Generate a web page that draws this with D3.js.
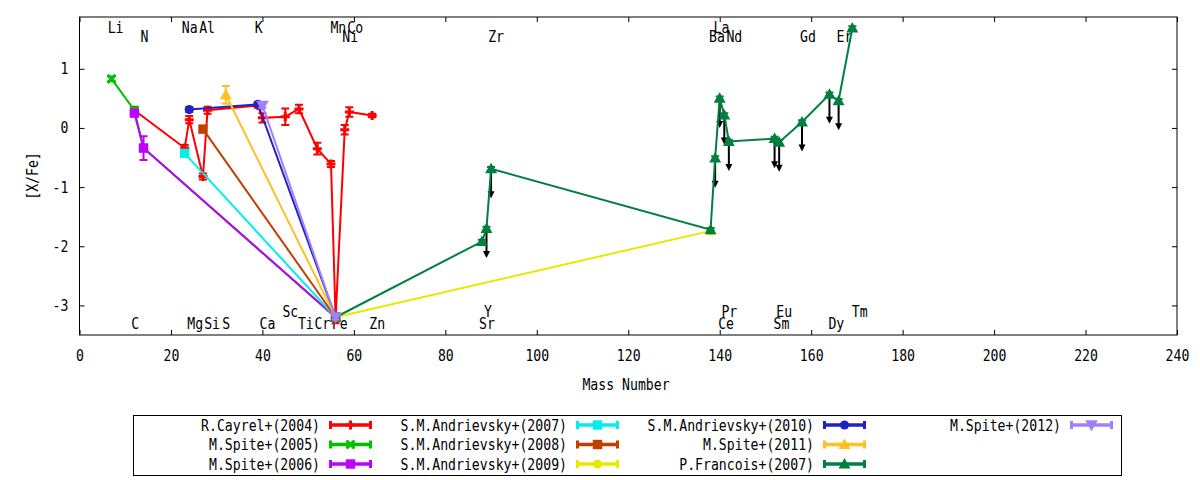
<!DOCTYPE html>
<html>
<head>
<meta charset="utf-8">
<script src="https://cdn.jsdelivr.net/npm/d3@7"></script>
<style>
  html, body { margin: 0; padding: 0; background: #fff; }
  svg { display: block; }
</style>
</head>
<body>
<svg id="chart" width="1200" height="480"></svg>
<script>
// ---------------- DATA ----------------
const xTicks = [0, 20, 40, 60, 80, 100, 120, 140, 160, 180, 200, 220, 240];
const yTicks = [-3, -2, -1, 0, 1];

// R.Cayrel+(2004)
const cayrelMass = [12, 23, 24, 27, 28, 39, 40, 45, 48, 52, 55, 56, 58, 59, 64];
const cayrelXFe  = [0.30, -0.34, 0.14, -0.82, 0.30, 0.38, 0.17, 0.19, 0.32, -0.35, -0.61, -3.22, -0.03, 0.27, 0.21];
const cayrelErr  = [0.04, 0.05, 0.06, 0.05, 0.06, 0.04, 0.08, 0.14, 0.07, 0.10, 0.05, 0.08, 0.08, 0.08, 0.03];
// M.Spite+(2005)
const spite05Mass = [7, 12, 14, 56];
const spite05XFe  = [0.83, 0.30, -0.34, -3.2];
const spite05Err  = [0.04, 0.04, 0.05, 0.05];
// M.Spite+(2006)
const spite06Mass = [12, 14, 56];
const spite06XFe  = [0.25, -0.34, -3.2];
const spite06Err  = [0.05, 0.20, 0.05];
// S.M.Andrievsky+(2007)
const andr07Mass = [23, 56];
const andr07XFe  = [-0.43, -3.2];
const andr07Err  = [0.04, 0.04];
// S.M.Andrievsky+(2008)
const andr08Mass = [27, 56];
const andr08XFe  = [-0.02, -3.2];
const andr08Err  = [0.04, 0.04];
// S.M.Andrievsky+(2009)
const andr09Mass = [56, 138];
const andr09XFe  = [-3.2, -1.74];
const andr09Err  = [0.04, 0.04];
// S.M.Andrievsky+(2010)
const andr10Mass = [24, 39, 56];
const andr10XFe  = [0.31, 0.40, -3.2];
const andr10Err  = [0.04, 0.04, 0.04];
// M.Spite+(2011)
const spite11Mass = [32, 56];
const spite11XFe  = [0.56, -3.2];
const spite11Err  = [0.15, 0.04];
// P.Francois+(2007)
const francoisMass  = [56, 88, 89, 90, 138, 139, 140, 141, 142, 152, 153, 158, 164, 166, 169];
const francoisXFe   = [-3.2, -1.92, -1.70, -0.69, -1.72, -0.51, 0.50, 0.22, -0.23, -0.18, -0.24, 0.10, 0.57, 0.46, 1.69];
const francoisErr   = [0.03, 0.03, 0.03, 0.03, 0.03, 0.03, 0.03, 0.03, 0.03, 0.03, 0.03, 0.03, 0.03, 0.03, 0.03];
const francoisUpper = [0, 0, 1, 1, 0, 1, 1, 1, 1, 1, 1, 1, 1, 1, 0];
// M.Spite+(2012)
const spite12Mass = [40, 56];
const spite12XFe  = [0.38, -3.2];
const spite12Err  = [0.04, 0.04];

const seriesNames = ["R.Cayrel+(2004)", "M.Spite+(2005)", "M.Spite+(2006)",
  "S.M.Andrievsky+(2007)", "S.M.Andrievsky+(2008)", "S.M.Andrievsky+(2009)",
  "S.M.Andrievsky+(2010)", "M.Spite+(2011)", "P.Francois+(2007)", "M.Spite+(2012)"];

// element labels (placed in data coordinates)
const labelNames = ["Li","Na","Al","K","Mn","Co","La",
                    "N","Ni","Zr","Ba","Nd","Gd","Er",
                    "Sc","Y","Pr","Eu","Tm",
                    "C","Mg","Si","S","Ca","Ti","Cr","Fe","Zn","Sr","Ce","Sm","Dy"];
const labelMass  = [7.9, 24.1, 27.9, 39.2, 56.6, 60.3, 140.4,
                    14.2, 59.2, 91.1, 139.4, 143.2, 159.3, 167.3,
                    46.1, 89.3, 142.1, 154.1, 170.6,
                    12.2, 25.3, 29.0, 32.1, 41.1, 49.5, 53.1, 56.9, 65.1, 89.1, 141.4, 153.5, 165.5];
const labelXFe   = [1.70, 1.70, 1.70, 1.70, 1.70, 1.70, 1.70,
                    1.55, 1.55, 1.55, 1.55, 1.55, 1.55, 1.55,
                    -3.10, -3.10, -3.10, -3.10, -3.10,
                    -3.31, -3.31, -3.31, -3.31, -3.31, -3.31, -3.31, -3.31, -3.31, -3.31, -3.31, -3.31, -3.31];

// ---------------- STYLE ----------------
const FONT = "'DejaVu Sans Mono', 'Liberation Mono', monospace";
const FS = 15.5, SX = 0.85;
const styles = [
  {color: "#ff0000", marker: "plus"},
  {color: "#00c000", marker: "cross"},
  {color: "#c000ff", marker: "square"},
  {color: "#00eeee", marker: "square"},
  {color: "#c04000", marker: "square"},
  {color: "#e8e800", marker: "circle"},
  {color: "#2222c0", marker: "circle"},
  {color: "#ffc020", marker: "tri"},
  {color: "#008040", marker: "tri"},
  {color: "#a080ff", marker: "trid"}
];
const seriesData = [
  [cayrelMass, cayrelXFe, cayrelErr],
  [spite05Mass, spite05XFe, spite05Err],
  [spite06Mass, spite06XFe, spite06Err],
  [andr07Mass, andr07XFe, andr07Err],
  [andr08Mass, andr08XFe, andr08Err],
  [andr09Mass, andr09XFe, andr09Err],
  [andr10Mass, andr10XFe, andr10Err],
  [spite11Mass, spite11XFe, spite11Err],
  [francoisMass, francoisXFe, francoisErr],
  [spite12Mass, spite12XFe, spite12Err]
];

const svg = d3.select("#chart");
const L = 79.5, R = 1177, T = 17, B = 335;
const x = d3.scaleLinear().domain([0, 240]).range([L, R]);
const y = d3.scaleLinear().domain([-3.5, 1.875]).range([B, T]);

function addText(parent, px, py, str, anchor, rot) {
  const g = parent.append("g")
    .attr("transform", `translate(${px},${py})` + (rot ? ` rotate(${rot})` : "") + ` scale(${SX},1)`);
  g.append("text")
    .attr("x", 0).attr("y", 0).attr("dy", "0.36em")
    .attr("text-anchor", anchor || "middle")
    .attr("font-family", FONT).attr("font-size", FS)
    .attr("fill", "#000")
    .text(str);
  return g;
}

function drawMarker(g, type, cx, cy, color, k) {
  k = k || 1;
  if (type === "plus") {
    const s = 4.5 * k;
    g.append("path").attr("d", `M${cx - s},${cy}H${cx + s}M${cx},${cy - s}V${cy + s}`)
      .attr("stroke", color).attr("stroke-width", 3).attr("fill", "none");
  } else if (type === "cross") {
    const s = 4 * k;
    g.append("path").attr("d", `M${cx - s},${cy - s}L${cx + s},${cy + s}M${cx - s},${cy + s}L${cx + s},${cy - s}`)
      .attr("stroke", color).attr("stroke-width", 3).attr("fill", "none");
  } else if (type === "square") {
    const s = 4.7 * k;
    g.append("rect").attr("x", cx - s).attr("y", cy - s).attr("width", 2 * s).attr("height", 2 * s)
      .attr("fill", color);
  } else if (type === "circle") {
    g.append("circle").attr("cx", cx).attr("cy", cy).attr("r", 4.6 * k).attr("fill", color);
  } else if (type === "tri") {
    const s = 6 * k;
    g.append("path").attr("d", `M${cx},${cy - s}L${cx + s},${cy + s * 0.75}L${cx - s},${cy + s * 0.75}Z`)
      .attr("fill", color);
  } else if (type === "trid") {
    const s = 6.3 * k;
    g.append("path").attr("d", `M${cx},${cy + s}L${cx + s},${cy - s * 0.75}L${cx - s},${cy - s * 0.75}Z`)
      .attr("fill", color);
  }
}

// ---------------- AXES ----------------
const fmt = d => String(d);
const axB = svg.append("g").attr("transform", `translate(0,${B})`)
  .call(d3.axisBottom(x).tickValues(xTicks).tickFormat(fmt).tickSizeInner(-5).tickSizeOuter(0).tickPadding(15));
const axL = svg.append("g").attr("transform", `translate(${L},0)`)
  .call(d3.axisLeft(y).tickValues(yTicks).tickFormat(fmt).tickSizeInner(-5).tickSizeOuter(0).tickPadding(13));
const axT = svg.append("g").attr("transform", `translate(0,${T})`)
  .call(d3.axisTop(x).tickValues(xTicks).tickSizeInner(-5).tickSizeOuter(0).tickFormat(""));
const axR = svg.append("g").attr("transform", `translate(${R},0)`)
  .call(d3.axisRight(y).tickValues(yTicks).tickSizeInner(-5).tickSizeOuter(0).tickFormat(""));
[axB, axL, axT, axR].forEach(a => {
  a.select(".domain").remove();
  a.selectAll(".tick line").attr("stroke", "#000").attr("stroke-width", 1);
  a.selectAll("text").attr("font-family", FONT).attr("font-size", FS).attr("fill", "#000");
});
axB.selectAll(".tick text").attr("transform", `scale(${SX},1)`);
axL.selectAll(".tick text").attr("transform", `scale(${SX},1)`);

svg.append("rect").attr("x", L).attr("y", T).attr("width", R - L).attr("height", B - T)
  .attr("fill", "none").attr("stroke", "#000").attr("stroke-width", 1);

addText(svg, 626, 384, "Mass Number", "middle");
addText(svg, 32, 176, "[X/Fe]", "middle", -90);

// ---------------- ELEMENT LABELS ----------------
const labG = svg.append("g");
labelNames.forEach((n, i) => addText(labG, x(labelMass[i]), y(labelXFe[i]), n, "middle"));

// ---------------- UPPER-LIMIT ARROWS (behind) ----------------
const arrowG = svg.append("g");
francoisMass.forEach((m, i) => {
  if (!francoisUpper[i]) return;
  const px = x(m), y0 = y(francoisXFe[i]), y1 = y(francoisXFe[i] - 0.5);
  arrowG.append("line").attr("x1", px).attr("x2", px).attr("y1", y0).attr("y2", y1 - 6)
    .attr("stroke", "#000").attr("stroke-width", 2);
  arrowG.append("path").attr("d", `M${px - 3.5},${y1 - 7}L${px + 3.5},${y1 - 7}L${px},${y1}Z`)
    .attr("fill", "#000");
});

// ---------------- SERIES ----------------
const plotG = svg.append("g");
const line = d3.line().x(d => x(d[0])).y(d => y(d[1]));
seriesData.forEach((sd, si) => {
  const [xs, ys, es] = sd;
  const st = styles[si];
  const pts = xs.map((v, i) => [v, ys[i], es[i]]);
  const g = plotG.append("g");
  g.append("path").datum(pts).attr("d", line)
    .attr("fill", "none").attr("stroke", st.color).attr("stroke-width", 2);
  pts.forEach(p => {
    const px = x(p[0]), yt = y(p[1] + p[2]), yb = y(p[1] - p[2]);
    g.append("path").attr("d", `M${px},${yt}V${yb}M${px - 4},${yt}H${px + 4}M${px - 4},${yb}H${px + 4}`)
      .attr("stroke", st.color).attr("stroke-width", 2).attr("fill", "none");
  });
  pts.forEach(p => drawMarker(g, st.marker, x(p[0]), y(p[1]), st.color));
});

// ---------------- LEGEND ----------------
const lg = svg.append("g");
lg.append("rect").attr("x", 133.5).attr("y", 415.5).attr("width", 988).attr("height", 60)
  .attr("fill", "#fff").attr("stroke", "#000").attr("stroke-width", 1);
seriesNames.forEach((name, i) => {
  const col = Math.floor(i / 3), row = i % 3;
  const lx = 329 + col * 247, ly = 425 + row * 19.5;
  const st = styles[i];
  addText(lg, lx - 9, ly, name, "end");
  lg.append("line").attr("x1", lx).attr("x2", lx + 43).attr("y1", ly).attr("y2", ly)
    .attr("stroke", st.color).attr("stroke-width", 3.5);
  lg.append("path").attr("d", `M${lx + 1.5},${ly - 4}V${ly + 4}M${lx + 41.5},${ly - 4}V${ly + 4}`)
    .attr("stroke", st.color).attr("stroke-width", 3);
  drawMarker(lg, st.marker, lx + 21.5, ly, st.color);
});
</script>
</body>
</html>
